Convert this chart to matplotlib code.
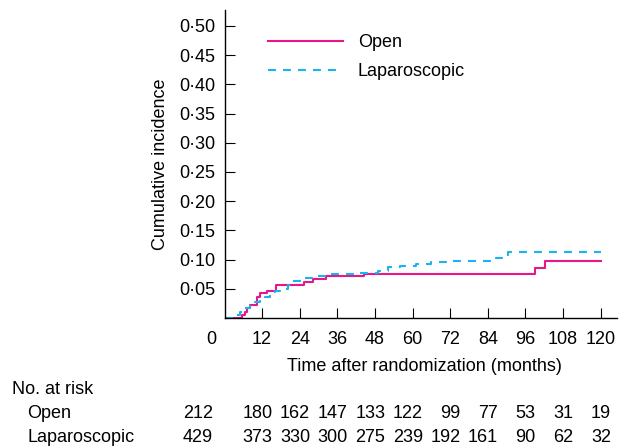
import numpy as np
import matplotlib
matplotlib.use("Agg")
from matplotlib import pyplot as plt
import matplotlib.transforms as mtransforms

# Data
open_t = [0, 5.7, 6.5, 7.2, 8.1, 10.4, 11.3, 13.4, 16.4, 25.3, 28.1, 32.3, 44.5, 98.9, 102.1, 120]
open_y = [0, 0.006, 0.011, 0.017, 0.023, 0.037, 0.043, 0.047, 0.056, 0.062, 0.067, 0.072, 0.076, 0.085, 0.097, 0.097]

lap_t = [0, 2.7, 3.8, 4.9, 6.5, 8.1, 9.7, 11.3, 12.8, 14.4, 16.0, 17.6, 20.3, 21.9, 25.1, 28.3,
         33.6, 41.5, 49.0, 52.2, 55.9, 61.2, 66.0, 70.8, 86.5, 88.5, 90.5, 120]
lap_y = [0, 0.003, 0.006, 0.011, 0.017, 0.021, 0.027, 0.032, 0.037, 0.044, 0.047, 0.050, 0.057, 0.064,
         0.068, 0.072, 0.075, 0.077, 0.081, 0.087, 0.090, 0.092, 0.096, 0.098, 0.103, 0.108, 0.113, 0.113]

risk_months = [0, 12, 24, 36, 48, 60, 72, 84, 96, 108, 120]
risk_open = [212, 180, 162, 147, 133, 122, 99, 77, 53, 31, 19]
risk_lap = [429, 373, 330, 300, 275, 239, 192, 161, 90, 62, 32]

y_ticks = [0.05, 0.10, 0.15, 0.20, 0.25, 0.30, 0.35, 0.40, 0.45, 0.50]

plt.rcParams['font.family'] = ['Liberation Sans', 'DejaVu Sans']
plt.rcParams['font.size'] = 13

W, H = 619, 447
fig = plt.figure(figsize=(W / 100, H / 100), dpi=100)
ax = fig.add_axes([224.5 / W, (H - 318.2) / H, (617 - 224.5) / W, (318.2 - 10) / H])

pink = '#E8168B'
cyan = '#1BB3EE'
ax.step(open_t, open_y, where='post', color=pink, lw=1.5, label='Open')
ax.step(lap_t, lap_y, where='post', color=cyan, lw=1.5, dashes=(3.8, 3.4), label='Laparoscopic')

ax.set_xlim(0, 125.2)
ax.set_ylim(0, 0.527)
for s in ['top', 'right']:
    ax.spines[s].set_visible(False)
for s in ['left', 'bottom']:
    ax.spines[s].set_linewidth(1.0)

ax.set_xticks(risk_months[1:])
ax.set_xticklabels([str(m) for m in risk_months[1:]])
ax.set_yticks(y_ticks)
ax.set_yticklabels([('%.2f' % v).replace('.', '\u00b7') for v in y_ticks])
ax.tick_params(direction='in', length=7.2, width=0.8, color='black')
ax.tick_params(axis='x', pad=9)
ax.tick_params(axis='y', pad=6.5)

# origin label sits left of the corner
ax.text(-4.2, -0.042, '0', transform=mtransforms.blended_transform_factory(ax.transData, ax.transAxes),
        ha='center', va='top')

ax.set_ylabel('Cumulative incidence')
ax.yaxis.set_label_coords(-0.142, 0.5)
ax.set_xlabel('Time after randomization (months)')
ax.xaxis.set_label_coords(0.51, -0.128)

ax.legend(loc='upper left', bbox_to_anchor=(0.111, 0.922), frameon=False, borderpad=0,
          borderaxespad=0, handlelength=4.15, handletextpad=0.83, labelspacing=0.67)

# number at risk table
tr = mtransforms.blended_transform_factory(ax.transData, fig.transFigure)
fig.text(12 / W, 1 - 389 / H, 'No. at risk', va='center', ha='left')
fig.text(27 / W, 1 - 413 / H, 'Open', va='center', ha='left')
fig.text(27 / W, 1 - 438 / H, 'Laparoscopic', va='center', ha='left')
for m, a, b in zip(risk_months, risk_open, risk_lap):
    xx = -3.7 if m == 0 else m + 3.3
    ax.text(xx, 1 - 413 / H, str(a), transform=tr, ha='right', va='center', clip_on=False)
    ax.text(xx, 1 - 438 / H, str(b), transform=tr, ha='right', va='center', clip_on=False)

fig.savefig('out.png', dpi=100)
